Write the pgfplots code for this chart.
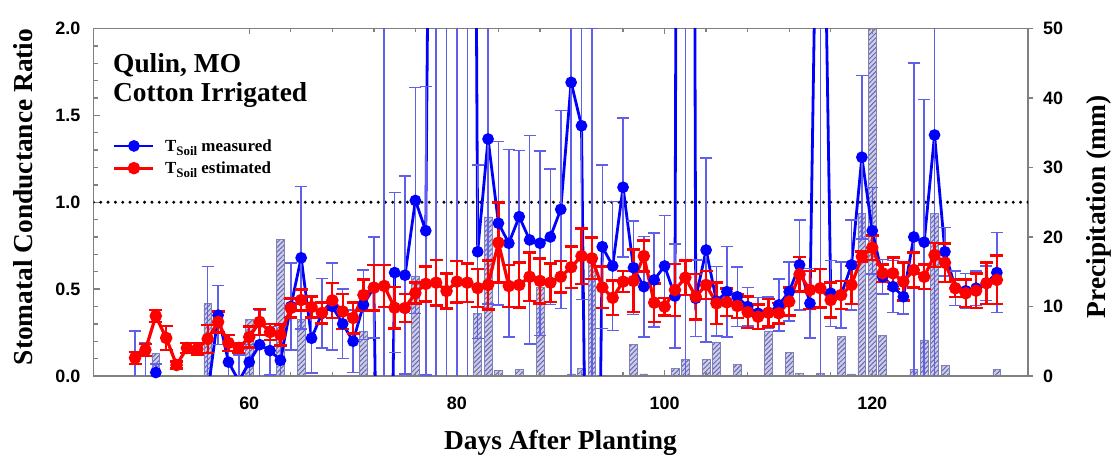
\documentclass[border=0pt]{standalone}
\usepackage{fontspec}
\setmainfont{Liberation Serif}
\newfontfamily\arialfont{Liberation Sans}
\usepackage{pgfplots}
\pgfplotsset{compat=1.18}
\usepackage{pgfplotstable}
\usetikzlibrary{patterns.meta}

\definecolor{axisgray}{RGB}{128,128,128}
\definecolor{rainfill}{RGB}{205,205,235}
\definecolor{rainhatch}{RGB}{105,105,172}
\definecolor{measblue}{RGB}{0,0,255}
\definecolor{measbar}{RGB}{95,95,235}
\definecolor{estred}{RGB}{255,0,0}

\newcommand\tickfont{\arialfont\bfseries\fontsize{18}{18}\selectfont}
\newcommand\labelfont{\bfseries\fontsize{27.5}{30}\selectfont}
\newcommand\soil{T\raisebox{-4bp}{\fontsize{13}{13}\selectfont Soil}}

% daily precipitation (mm)
\pgfplotstableread{
day mm
51 3.3
56 10.5
60 8.2
63 19.6
65 8.2
71 6.4
76 14.4
82 9.0
83 22.9
84 0.8
86 0.9
88 12.8
91 0.3
92 1.1
93 16.2
97 4.6
98 0.3
101 1.1
102 2.4
104 2.4
105 4.9
107 1.7
110 6.5
112 3.4
113 0.4
115 0.4
117 5.7
118 0.3
119 23.4
120 50
121 5.8
124 1.0
125 5.2
126 23.4
127 1.5
132 1.0
}\rain

% stomatal conductance ratio with measured soil temperature
\pgfplotstableread{
day val err
49 -0.10 0.36
50 -0.15 0.34
51 0.02 0.05
52 -0.6 0.1
53 -0.6 0.1
54 -0.6 0.1
55 -0.6 0.1
56 -0.10 0.73
57 0.35 0.17
58 0.08 0.10
59 -0.03 0.15
60 0.08 0.10
61 0.18 0.20
62 0.146 0.14
63 0.09 0.15
64 0.40 0.25
65 0.68 0.41
66 0.217 0.20
67 0.36 0.20
68 0.40 0.25
69 0.30 0.20
70 0.20 0.18
71 0.41 0.20
72 0.51 0.29
73 -3.5 6
74 0.595 0.46
75 0.58 0.57
76 1.01 0.65
77 0.836 0.83
78 8 10
79 8 10
80 8 10
81 12 14
82 0.715 0.5
83 1.364 0.95
84 0.879 0.47
85 0.764 0.54
86 0.917 0.38
87 0.783 0.6
88 0.764 0.53
89 0.80 0.39
90 0.959 0.57
91 1.69 1.8
92 1.44 1.0
93 -4 6
94 0.744 0.47
95 0.633 0.37
96 1.086 0.40
97 0.623 0.27
98 0.514 0.29
99 0.553 0.27
100 0.633 0.29
101 0.46 0.3
102 20 25
103 0.447 0.22
104 0.725 0.53
105 0.43 0.2
106 0.485 0.26
107 0.456 0.17
108 0.399 0.11
109 0.361 0.09
110 0.364 0.09
111 0.409 0.15
112 0.485 0.17
113 0.639 0.26
114 0.418 0.2
115 4.3 6
116 0.476 0.19
117 0.466 0.19
118 0.639 0.26
119 1.259 0.47
120 0.836 0.25
121 0.571 0.1
122 0.514 0.15
123 0.456 0.1
124 0.80 1.0
125 0.77 0.82
126 1.387 1.4
127 0.715 0.14
128 0.505 0.1
129 0.49 0.1
130 0.505 0.1
131 0.534 0.1
132 0.595 0.23
}\measured

% stomatal conductance ratio with estimated soil temperature
\pgfplotstableread{
day val err
49 0.104 0.035
50 0.150 0.035
51 0.345 0.035
52 0.219 0.07
53 0.063 0.02
54 0.161 0.03
55 0.155 0.035
56 0.213 0.08
57 0.311 0.06
58 0.190 0.045
59 0.161 0.03
60 0.224 0.06
61 0.311 0.075
62 0.253 0.045
63 0.236 0.06
64 0.391 0.055
65 0.437 0.06
66 0.397 0.06
67 0.363 0.06
68 0.435 0.10
69 0.371 0.10
70 0.334 0.09
71 0.466 0.09
72 0.508 0.13
73 0.518 0.12
74 0.393 0.12
75 0.391 0.08
76 0.478 0.06
77 0.530 0.10
78 0.537 0.13
79 0.489 0.10
80 0.543 0.12
81 0.537 0.11
82 0.506 0.11
83 0.524 0.14
84 0.767 0.23
85 0.518 0.12
86 0.524 0.13
87 0.571 0.14
88 0.547 0.13
89 0.537 0.11
90 0.571 0.09
91 0.626 0.12
92 0.690 0.16
93 0.677 0.12
94 0.510 0.12
95 0.450 0.10
96 0.543 0.06
97 0.547 0.18
98 0.690 0.09
99 0.422 0.11
100 0.399 0.05
101 0.495 0.15
102 0.566 0.10
103 0.456 0.13
104 0.524 0.08
105 0.418 0.12
106 0.424 0.08
107 0.403 0.07
108 0.367 0.09
109 0.341 0.07
110 0.364 0.08
111 0.361 0.06
112 0.428 0.08
113 0.585 0.10
114 0.495 0.11
115 0.505 0.11
116 0.437 0.10
117 0.466 0.08
118 0.524 0.11
119 0.687 0.03
120 0.738 0.07
121 0.591 0.05
122 0.591 0.09
123 0.543 0.11
124 0.610 0.10
125 0.571 0.07
126 0.696 0.07
127 0.652 0.11
128 0.505 0.05
129 0.476 0.08
130 0.491 0.10
131 0.534 0.12
132 0.553 0.14
}\estimated

\begin{document}
\begin{tikzpicture}
\path[use as bounding box] (0,0) rectangle (1112bp,457bp);

% precipitation bars on the right-hand scale
\begin{axis}[
  at={(93.5bp,81bp)}, anchor=south west,
  scale only axis, width=934.5bp, height=347.5bp,
  xmin=45, xmax=135, ymin=0, ymax=50,
  axis x line=none,
  axis y line*=right,
  y axis line style={draw=axisgray, line width=1.5bp},
  ytick={0,10,...,50},
  tick align=outside,
  major tick length=5bp,
  ytick style={draw=axisgray, line width=1.3bp},
  yticklabel style={font=\tickfont, anchor=west, inner sep=0pt, xshift=10bp},
  /pgf/number format/assume math mode=true,
]
\addplot[ybar, bar width=0.75, draw=rainhatch!85, line width=0.6bp, fill=rainfill,
  postaction={pattern={Lines[angle=45,distance=3.4bp,line width=1bp]}, pattern color=rainhatch}]
  table[x=day, y=mm]{\rain};
\end{axis}

% conductance ratio on the left-hand scale
\begin{axis}[
  at={(93.5bp,81bp)}, anchor=south west,
  scale only axis, width=934.5bp, height=347.5bp,
  xmin=45, xmax=135, ymin=0, ymax=2,
  axis line style={draw=axisgray, line width=1.5bp},
  xtick={60,80,...,120}, minor x tick num=4,
  ytick={0,0.5,...,2}, minor y tick num=4,
  ytick pos=left, xtick pos=both,
  tick align=inside,
  major tick length=6bp, minor tick length=4bp,
  tick style={draw=axisgray, line width=1.3bp},
  /pgf/number format/assume math mode=true,
  xticklabel style={font=\tickfont, anchor=north, inner sep=0pt, yshift=-21bp},
  yticklabel style={font=\tickfont, anchor=east, inner sep=0pt, xshift=-13bp,
    /pgf/number format/.cd, fixed, fixed zerofill, precision=1},
  legend style={draw=none, fill=none, at={(axis description cs:0.0205,0.63)}, anchor=west,
    font=\bfseries\fontsize{17}{20}\selectfont, row sep=9bp, column sep=10bp,
    inner sep=0pt, nodes={inner sep=0pt}, cells={anchor=west}},
  legend image code/.code={\draw[mark repeat=2,mark phase=2,#1] plot coordinates {(0bp,0bp) (19.5bp,0bp) (39bp,0bp)};},
]
\addlegendimage{measblue, line width=2.8bp, mark=*, mark size=4.4bp}
\addlegendentry{\soil{} measured}
\addlegendimage{estred, line width=3.2bp, mark=*, mark size=4.6bp}
\addlegendentry{\soil{} estimated}

\addplot[black, line width=3.3bp, dash pattern=on 0pt off 7.3bp, line cap=round, forget plot]
  coordinates {(45,1) (135,1)};

\addplot[measblue, line width=2.8bp, mark=*, mark size=4.4bp, forget plot,
  error bars/.cd, y dir=both, y explicit,
  error bar style={measbar, line width=1.5bp},
  error mark options={rotate=90, measbar, line width=1.5bp, mark size=6bp}]
  table[x=day, y=val, y error=err]{\measured};

\addplot[estred, line width=3.2bp, mark=*, mark size=4.6bp, forget plot,
  error bars/.cd, y dir=both, y explicit,
  error bar style={estred, line width=2.3bp},
  error mark options={rotate=90, estred, line width=2.5bp, mark size=6.5bp}]
  table[x=day, y=val, y error=err]{\estimated};
\end{axis}

\node[anchor=base west, font=\labelfont, inner sep=0pt] at (113bp,384bp) {Qulin, MO};
\node[anchor=base west, font=\labelfont, inner sep=0pt] at (113bp,355bp) {Cotton Irrigated};
\node[rotate=90, font=\labelfont, inner sep=0pt] at (23.5bp,260bp) {Stomatal Conductance Ratio};
\node[rotate=90, font=\labelfont, inner sep=0pt] at (1099bp,250bp) {Precipitation (mm)};
\node[anchor=base, font=\labelfont, inner sep=0pt] at (560.5bp,8bp) {Days After Planting};
\end{tikzpicture}
\end{document}
